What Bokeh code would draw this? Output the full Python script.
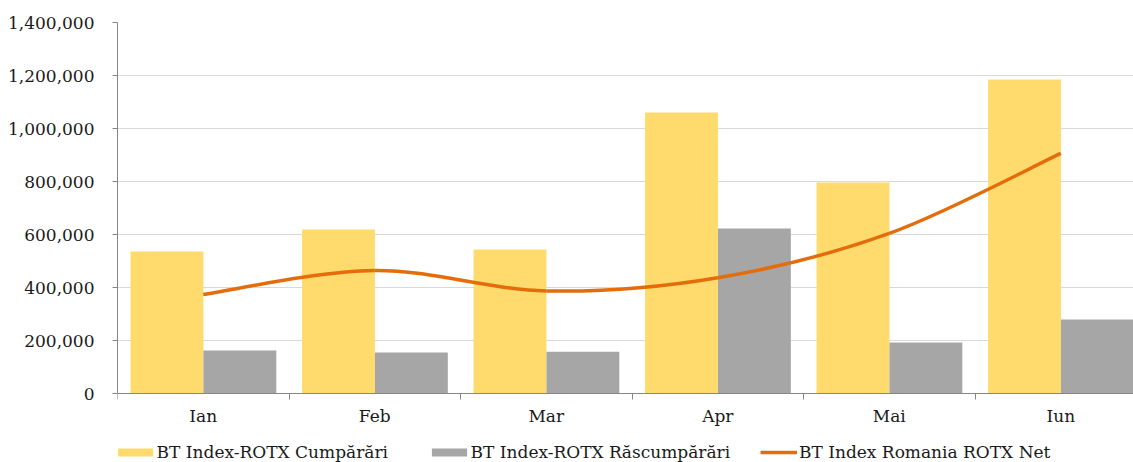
import numpy as np
from bokeh.plotting import figure
from bokeh.models import Range1d, FixedTicker, NumeralTickFormatter, Legend, LegendItem
from bokeh.embed import file_html
from bokeh.resources import INLINE

months = ["Ian", "Feb", "Mar", "Apr", "Mai", "Iun"]
cumparari = [536000, 619000, 543000, 1060000, 796000, 1185000]
rascumparari = [162000, 155000, 158000, 623000, 192000, 279000]
net = [374000, 464000, 387000, 437000, 604000, 906000]
y_ticks = [0, 200000, 400000, 600000, 800000, 1000000, 1200000, 1400000]
series_names = ["BT Index-ROTX Cumpărări", "BT Index-ROTX Răscumpărări", "BT Index Romania ROTX Net"]

YELLOW = "#FFDB6E"
GRAY = "#A6A6A6"
ORANGE = "#E46C0A"
AXIS = "#868686"
FONT = "DejaVu Serif"
FS = "17px"
TXT = "#1a1a1a"

n = len(months)
idx = np.arange(n)
bar_w = 0.425
x_y = idx + 0.076 + bar_w / 2
x_g = idx + 0.076 + bar_w * 1.5
x_c = idx + 0.5

Y_MAX = 1400000
# frame spans the full figure height; the area below 0 holds axis labels and legend
Y_MIN = -Y_MAX * 69 / 371

p = figure(width=1133, height=462, x_range=Range1d(0, 5.924), y_range=Range1d(Y_MIN, Y_MAX),
           output_backend="svg", toolbar_location=None,
           min_border_left=117, min_border_right=0, min_border_top=22, min_border_bottom=0)
p.outline_line_color = None
p.xgrid.grid_line_color = None
p.ygrid.grid_line_color = "#D9D9D9"
p.ygrid.grid_line_width = 1

r1 = p.vbar(x=x_y, top=cumparari, width=bar_w, bottom=0, fill_color=YELLOW, line_color=None)
r2 = p.vbar(x=x_g, top=rascumparari, width=bar_w, bottom=0, fill_color=GRAY, line_color=None)

# smoothed line (Catmull-Rom style bezier segments through data points)
ys = np.array(net, dtype=float)
xs = x_c
pad_x = np.concatenate([[xs[0]], xs, [xs[-1]]])
pad_y = np.concatenate([[ys[0]], ys, [ys[-1]]])
x0 = xs[:-1]; y0 = ys[:-1]; x1 = xs[1:]; y1 = ys[1:]
cx0 = x0 + (pad_x[2:n + 1] - pad_x[0:n - 1]) / 6
cy0 = y0 + (pad_y[2:n + 1] - pad_y[0:n - 1]) / 6
cx1 = x1 - (pad_x[3:n + 2] - pad_x[1:n]) / 6
cy1 = y1 - (pad_y[3:n + 2] - pad_y[1:n]) / 6
r3 = p.bezier(x0=x0, y0=y0, x1=x1, y1=y1, cx0=cx0, cy0=cy0, cx1=cx1, cy1=cy1,
              line_color=ORANGE, line_width=3.5)

# y axis
ya = p.yaxis[0]
ya.ticker = FixedTicker(ticks=y_ticks)
ya.bounds = (0, Y_MAX)
ya.formatter = NumeralTickFormatter(format="0,0")
ya.axis_line_color = AXIS
ya.major_tick_line_color = AXIS
ya.major_tick_out = 5
ya.major_tick_in = 0
ya.minor_tick_line_color = None
ya.major_label_standoff = 18
ya.major_label_text_font = FONT
ya.major_label_text_font_size = FS
ya.major_label_text_color = TXT

# x axis, pinned at y = 0
xa = p.xaxis[0]
xa.fixed_location = 0
xa.ticker = FixedTicker(ticks=list(x_c), minor_ticks=list(range(n + 1)))
xa.major_label_overrides = {float(x): m for x, m in zip(x_c, months)}
xa.axis_line_color = AXIS
xa.major_tick_line_color = None
xa.major_tick_out = 0
xa.major_tick_in = 0
xa.minor_tick_line_color = AXIS
xa.minor_tick_out = 6
xa.minor_tick_in = 0
xa.major_label_standoff = 6
xa.major_label_text_font = FONT
xa.major_label_text_font_size = FS
xa.major_label_text_color = TXT

# legends (one per item, to match the reference spacing)
specs = [(r1, series_names[0], -4.4, 44, 0),
         (r2, series_names[1], 309.6, 44, 0),
         (r3, series_names[2], 643, 37, 2)]
for r, nm, xoff, gw, st in specs:
    leg = Legend(items=[LegendItem(label=nm, renderers=[r])], location=(xoff, 0),
                 glyph_width=gw, glyph_height=10, label_standoff=st,
                 padding=0, margin=0, border_line_color=None, background_fill_alpha=0,
                 label_text_font=FONT, label_text_font_size=FS, label_text_color=TXT)
    p.add_layout(leg)

open("out.html", "w").write(file_html(p, INLINE))
